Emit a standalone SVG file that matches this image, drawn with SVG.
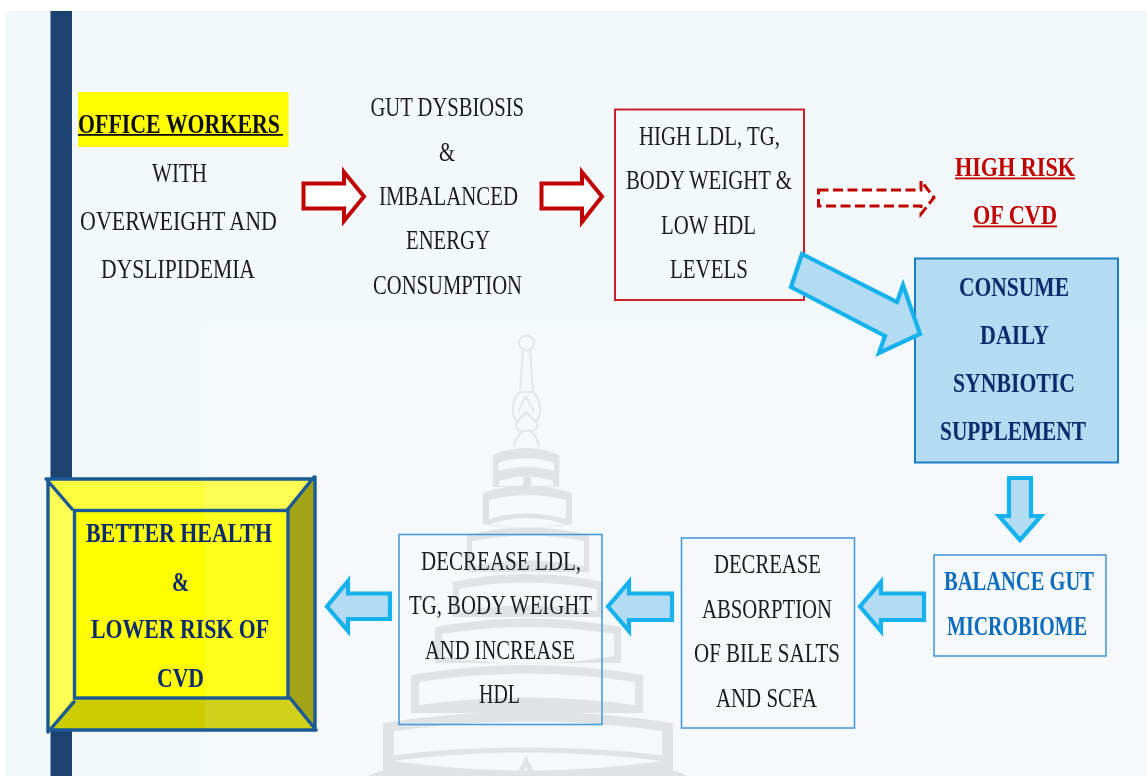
<svg xmlns="http://www.w3.org/2000/svg" width="1147" height="776" viewBox="0 0 1147 776">
<defs><filter id="soft" x="0" y="0" width="1" height="1" filterUnits="objectBoundingBox"><feGaussianBlur stdDeviation="0.4"/></filter></defs>
<style>
text{font-family:"Liberation Serif","Times New Roman",serif;font-size:26.500px;fill:#1c1c1c}
.b{font-weight:700}
.dark{fill:#111}
.navy{fill:#0d2a6b}
.blue{fill:#0f6cbd}
.red{fill:#c00000}
.wm{fill:#dfe3e6;fill-rule:evenodd}
.box{fill:none;stroke:#4a9bd6;stroke-width:1.6}
.ra{fill:#fff;stroke:#c00000;stroke-width:4;stroke-linejoin:miter}
.ba{fill:#b3dcf2;stroke:#12b2ee;stroke-width:4.200;stroke-linejoin:miter}
.bev{stroke:#1a5a96;stroke-width:3.400;stroke-linecap:round;fill:none}
</style>
<g id="diagram" filter="url(#soft)">
<rect width="1147" height="776" fill="#fff"/>
<rect x="6" y="11" width="1141" height="765" fill="#f3f8fb"/>
<rect x="205" y="323" width="942" height="453" fill="#f5f9fc"/>
<rect x="50.500" y="11" width="21.500" height="765" fill="#1a4372"/>
<g id="watermark">
<path fill="none" stroke="#e3e7ea" stroke-width="2" d="M519 343a7.500 7.500 0 1 0 15 0a7.500 7.500 0 1 0-15 0M523 350L520 392H533L530 350M520 392C510 402 512 416 517 422C514 428 518 431 522 431C516 438 514 444 514 447M533 392C543 402 541 416 536 422C539 428 535 431 531 431C537 438 539 444 539 447M517 422L526 412L536 422M522 431H531M526 396L518 412M526 396L534 412"/>
<path class="wm" d="M492.700 455Q526 441 559.300 455V487H492.700ZM498 463Q526 453 554 463V471Q526 463 498 471ZM499 486V481Q526 472 553 481V486H531V476H523V486Z"/>
<path class="wm" d="M482.700 493Q527 478 572 493V524Q527 532 482.700 524ZM489 500Q527 490 566 500V519Q527 508 489 519ZM489 524Q527 512 566 524Q527 531 489 524Z"/>
<path class="wm" d="M467 535Q528 520 589 535V572H467ZM472 541Q528 530 584 541V566Q528 555 472 566Z"/>
<path class="wm" d="M453 582Q528 566 603 582V617H453ZM459 589Q528 576 597 589V611Q528 600 459 611Z"/>
<path class="wm" d="M435 627Q528 610 621 627V663H435ZM442 634Q528 620 614 634V656Q528 643 442 656ZM442 656Q528 643 614 656Q528 671 442 656Z"/>
<path class="wm" d="M411 675Q527 655 643 675V713H411ZM419 682Q527 665 635 682V705Q527 690 419 705Z"/>
<path class="wm" d="M383 723Q528 700 673 723V776H383ZM394 731Q528 712 662 731V755Q528 740 394 755ZM394 761Q528 744 662 761Q528 780 394 761Z"/>
<path class="wm" d="M368 776Q380 770 400 768L420 776ZM688 776Q676 770 656 768L636 776ZM516 776L526 756L536 776H530L526 766L522 776Z"/>
</g>
<g id="office-workers">
<rect x="78" y="92" width="210.500" height="55" fill="#ff0"/>
<text class="b dark" x="78" y="132.500" textLength="202" lengthAdjust="spacingAndGlyphs">OFFICE WORKERS</text>
<rect x="78" y="134" width="205" height="1.800" fill="#111"/>
<text x="152" y="182" textLength="55" lengthAdjust="spacingAndGlyphs">WITH</text>
<text x="80" y="230" textLength="197" lengthAdjust="spacingAndGlyphs">OVERWEIGHT AND</text>
<text x="101" y="278" textLength="154" lengthAdjust="spacingAndGlyphs">DYSLIPIDEMIA</text>
</g>
<g id="gut-dysbiosis">
<text x="370.500" y="116" textLength="153.500" lengthAdjust="spacingAndGlyphs">GUT DYSBIOSIS</text>
<text x="439" y="161" textLength="16" lengthAdjust="spacingAndGlyphs">&amp;</text>
<text x="379" y="204.500" textLength="139" lengthAdjust="spacingAndGlyphs">IMBALANCED</text>
<text x="406" y="249" textLength="84" lengthAdjust="spacingAndGlyphs">ENERGY</text>
<text x="373" y="293.500" textLength="149" lengthAdjust="spacingAndGlyphs">CONSUMPTION</text>
</g>
<g id="high-ldl">
<rect x="615" y="109.500" width="189" height="190.500" fill="none" stroke="#c8202a" stroke-width="2"/>
<text x="639" y="145" textLength="141" lengthAdjust="spacingAndGlyphs">HIGH LDL, TG,</text>
<text x="626" y="189" textLength="166" lengthAdjust="spacingAndGlyphs">BODY WEIGHT &amp;</text>
<text x="661" y="234" textLength="95" lengthAdjust="spacingAndGlyphs">LOW HDL</text>
<text x="670" y="278" textLength="78" lengthAdjust="spacingAndGlyphs">LEVELS</text>
</g>
<g id="high-risk">
<text class="b red" x="955" y="176" textLength="120" lengthAdjust="spacingAndGlyphs">HIGH RISK</text>
<rect x="955" y="177.500" width="120" height="1.800" fill="#c00000"/>
<text class="b red" x="973" y="224" textLength="84" lengthAdjust="spacingAndGlyphs">OF CVD</text>
<rect x="973" y="225.500" width="84" height="1.800" fill="#c00000"/>
</g>
<g id="consume">
<rect x="915" y="258.500" width="203" height="204" fill="#b3dcf2" stroke="#1a7cc4" stroke-width="2"/>
<text class="b navy" x="959" y="296" textLength="110" lengthAdjust="spacingAndGlyphs">CONSUME</text>
<text class="b navy" x="980" y="344" textLength="69" lengthAdjust="spacingAndGlyphs">DAILY</text>
<text class="b navy" x="953" y="392" textLength="122" lengthAdjust="spacingAndGlyphs">SYNBIOTIC</text>
<text class="b navy" x="940" y="440" textLength="146" lengthAdjust="spacingAndGlyphs">SUPPLEMENT</text>
</g>
<g id="balance">
<rect x="934" y="555" width="172" height="101" class="box"/>
<text class="b blue" x="944" y="590" textLength="150" lengthAdjust="spacingAndGlyphs">BALANCE GUT</text>
<text class="b blue" x="947" y="634.500" textLength="140" lengthAdjust="spacingAndGlyphs">MICROBIOME</text>
</g>
<g id="decrease-absorption">
<rect x="681.500" y="538" width="173" height="190" class="box"/>
<text x="714" y="573" textLength="107" lengthAdjust="spacingAndGlyphs">DECREASE</text>
<text x="702" y="618" textLength="130" lengthAdjust="spacingAndGlyphs">ABSORPTION</text>
<text x="694" y="662" textLength="146" lengthAdjust="spacingAndGlyphs">OF BILE SALTS</text>
<text x="716" y="707" textLength="101" lengthAdjust="spacingAndGlyphs">AND SCFA</text>
</g>
<g id="decrease-ldl">
<rect x="399" y="534.500" width="203" height="190" class="box"/>
<text x="421" y="570" textLength="160" lengthAdjust="spacingAndGlyphs">DECREASE LDL,</text>
<text x="409" y="614" textLength="183" lengthAdjust="spacingAndGlyphs">TG, BODY WEIGHT</text>
<text x="425" y="659" textLength="150" lengthAdjust="spacingAndGlyphs">AND INCREASE</text>
<text x="479" y="703" textLength="41" lengthAdjust="spacingAndGlyphs">HDL</text>
</g>
<g id="better-health">
<polygon points="48,479 314,479 288,510 74,510" fill="#ffff3f"/>
<polygon points="48,479 74,510 74,698 48,731" fill="#ffff55"/>
<polygon points="314,479 314,730 288,698 288,510" fill="#a3a319"/>
<polygon points="48,731 74,698 288,698 314,730" fill="#cccc00"/>
<rect x="74.500" y="510.500" width="213.500" height="187.500" fill="#ff0"/>
<polygon points="205,479 314,479 288,510 205,510" fill="#fff" opacity=".1"/>
<rect x="205" y="510.500" width="83" height="187.500" fill="#fff" opacity=".1"/>
<polygon points="205,698 288,698 314,730 205,730" fill="#fff" opacity=".1"/>
<path class="bev" d="M46 479H314M315 477V730M48 730H316M48 480V732M47 480L72 509M314 477L288 509M48 732L74 702M316 730L290 698"/>
<rect x="74.500" y="510.500" width="213.500" height="187.500" fill="none" stroke="#1a5a96" stroke-width="3.400"/>
<text class="b navy" x="86" y="542" textLength="186" lengthAdjust="spacingAndGlyphs">BETTER HEALTH</text>
<text class="b navy" x="172" y="590.500" textLength="17" lengthAdjust="spacingAndGlyphs">&amp;</text>
<text class="b navy" x="91" y="638" textLength="178" lengthAdjust="spacingAndGlyphs">LOWER RISK OF</text>
<text class="b navy" x="157" y="686.500" textLength="47" lengthAdjust="spacingAndGlyphs">CVD</text>
</g>
<g id="connectors">
<polygon class="ra" points="303.500,183.500 344,183.500 344,172 364,196.500 344,221 344,208.500 303.500,208.500"/>
<polygon class="ra" points="541.500,183.500 582,183.500 582,172 602,196.500 582,222 582,208.500 541.500,208.500"/>
<polygon fill="#fff" stroke="#c00000" stroke-width="3" stroke-dasharray="10 4.500" points="818.500,190 921,190 921,181 934,197.500 921,214 921,206 818.500,206"/>
<polygon class="ba" points="802,254 897,302 903,285 920,334 879,353 885,336 791,287"/>
<polygon class="ba" points="1009,478 1031,478 1031,516 1041,516 1020,540 999,516 1009,516"/>
<polygon class="ba" points="924,593.500 924,620 881,620 881,631 860,606.500 881,582 881,593.500"/>
<polygon class="ba" points="672,593.500 672,620 629,620 629,631 608,606.500 629,582 629,593.500"/>
<polygon class="ba" points="390,593.500 390,619 348,619 348,631 327,606.500 348,581 348,593.500"/>
</g>
</g>
</svg>
